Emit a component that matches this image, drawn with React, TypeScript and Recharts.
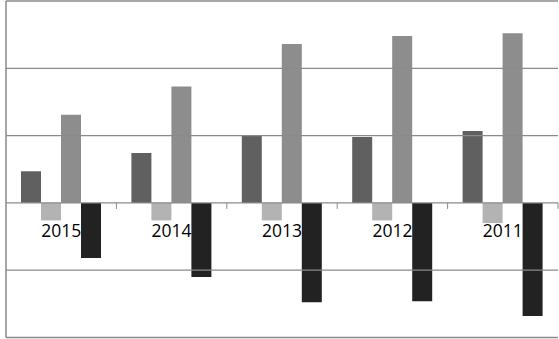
import { BarChart, Bar, XAxis, YAxis, ReferenceLine } from 'recharts';

const categories = ['2015', '2014', '2013', '2012', '2011'];
const seriesA = [4.7, 7.4, 10.0, 9.8, 10.7];
const seriesB = [-2.6, -2.6, -2.6, -2.6, -3.0];
const seriesC = [13.1, 17.3, 23.6, 24.8, 25.2];
const seriesD = [-8.2, -11.0, -14.75, -14.6, -16.8];
const yTicks = [-20, -10, 0, 10, 20, 30];

const data = categories.map((year, i) => ({
  year,
  a: seriesA[i],
  b: seriesB[i],
  c: seriesC[i],
  d: seriesD[i],
}));

const WIDTH = 559;
const HEIGHT = 339;
const margin = { top: 1, right: 1, bottom: 0.5, left: 5 };
const Y_AXIS_W = 1;
const X_AXIS_H = 1;
const plotW = WIDTH - margin.left - margin.right - Y_AXIS_W;
const plotH = HEIGHT - margin.top - margin.bottom - X_AXIS_H;
const yMin = yTicks[0];
const yMax = yTicks[yTicks.length - 1];
// distance from plot bottom up to the zero line
const zeroLift = (plotH * (0 - yMin)) / (yMax - yMin);
const halfBand = plotW / categories.length / 2;

const GRID = '#8a8a8a';

const YearTick = ({ x, y, payload }: { x?: number; y?: number; payload?: { value: string } }) => {
  const zy = (y ?? 0) - zeroLift;
  const cx = x ?? 0;
  return (
    <g>
      <line x1={cx + halfBand} x2={cx + halfBand} y1={zy} y2={zy + 6} stroke={GRID} strokeWidth={1} />
      <text
        x={cx}
        y={zy + 34.5}
        textAnchor="middle"
        fill="#000"
        fontSize={17.5}
        fontFamily="'Open Sans', sans-serif"
      >
        {payload?.value}
      </text>
    </g>
  );
};

const NoTick = () => <g />;

export default function App() {
  return (
    <div style={{ position: 'absolute', left: 0, top: 0, background: '#fff' }}>
      <BarChart
        width={WIDTH}
        height={HEIGHT}
        data={data}
        margin={margin}
        barCategoryGap={15}
        barGap={0}
      >
        {yTicks.map((t) => (
          <ReferenceLine key={t} y={t} stroke={GRID} strokeWidth={1.3} ifOverflow="extendDomain" />
        ))}
        <YAxis
          type="number"
          domain={[yMin, yMax]}
          ticks={yTicks}
          width={Y_AXIS_W}
          tick={<NoTick />}
          tickLine={false}
          axisLine={{ stroke: GRID, strokeWidth: 1.5 }}
        />
        <XAxis
          dataKey="year"
          height={X_AXIS_H}
          axisLine={false}
          tickLine={false}
          tickSize={0}
          tickMargin={0}
          interval={0}
          tick={<YearTick />}
        />
        <Bar dataKey="a" fill="#606060" isAnimationActive={false} />
        <Bar dataKey="b" fill="#b3b3b3" isAnimationActive={false} />
        <Bar dataKey="c" fill="#8d8d8d" isAnimationActive={false} />
        <Bar dataKey="d" fill="#222222" isAnimationActive={false} />
      </BarChart>
    </div>
  );
}
